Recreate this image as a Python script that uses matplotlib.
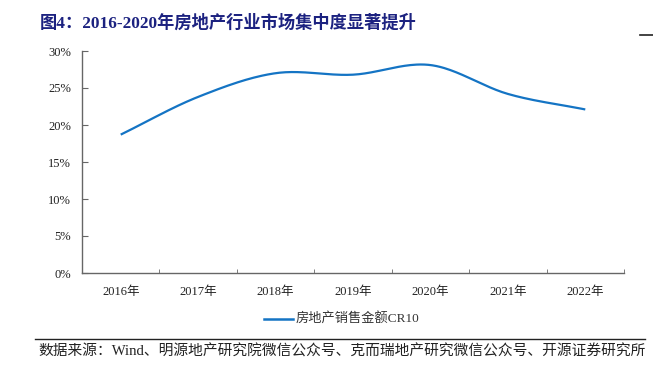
import numpy as np
import matplotlib
matplotlib.use("Agg")
import matplotlib.pyplot as plt
from matplotlib.lines import Line2D

years = ["2016年", "2017年", "2018年", "2019年", "2020年", "2021年", "2022年"]
cr10 = [18.7, 23.8, 27.0, 26.8, 28.1, 24.2, 22.1]
yticks = [0, 5, 10, 15, 20, 25, 30]
series_name = "房地产销售金额CR10"
title = "图4：2016-2020年房地产行业市场集中度显著提升"
source = "数据来源：Wind、明源地产研究院微信公众号、克而瑞地产研究微信公众号、开源证券研究所"

serif_cjk = ["Liberation Serif", "Noto Sans CJK SC"]

W, H = 653, 365
fig = plt.figure(figsize=(W / 100, H / 100), dpi=100)
ax = fig.add_axes([82 / W, 1 - 273 / H, (624 - 82) / W, (273 - 51) / H])

# smooth curve (cubic Hermite through data points)
x = np.arange(len(cr10), dtype=float)
y = np.array(cr10, dtype=float)
m = np.zeros_like(y)
m[1:-1] = (y[2:] - y[:-2]) / 2
m[0] = y[1] - y[0]
m[-1] = y[-1] - y[-2]
xs, ys = [], []
for i in range(len(y) - 1):
    t = np.linspace(0, 1, 40)
    h00 = 2 * t**3 - 3 * t**2 + 1
    h10 = t**3 - 2 * t**2 + t
    h01 = -2 * t**3 + 3 * t**2
    h11 = t**3 - t**2
    xs.extend(x[i] + t)
    ys.extend(h00 * y[i] + h10 * m[i] + h01 * y[i + 1] + h11 * m[i + 1])
ax.plot(xs, ys, color="#1474C4", lw=1.6, solid_capstyle="butt")

ax.set_xlim(-0.5, len(years) - 0.5)
ax.set_ylim(0, 30)
ax.set_yticks(yticks)
ax.set_yticklabels([f"{v}%" for v in yticks], family=serif_cjk, fontsize=9, color="#222222")
ax.set_xticks(x)
ax.set_xticklabels(years, family=serif_cjk, fontsize=9, color="#222222")
ax.set_xticks(np.arange(-0.5, len(years), 1.0), minor=True)
ax.tick_params(axis="x", which="major", length=0, pad=9)
ax.tick_params(axis="x", which="minor", direction="in", length=3, color="#666666")
ax.tick_params(axis="y", direction="in", length=4, color="#666666", pad=8)
for s in ["top", "right"]:
    ax.spines[s].set_visible(False)
for s in ["left", "bottom"]:
    ax.spines[s].set_color("#666666")
    ax.spines[s].set_linewidth(1.0)

# legend
fig.add_artist(Line2D([264 / W, 293 / W], [1 - 319 / H, 1 - 319 / H], color="#1474C4", lw=1.8))
fig.text(296 / W, 1 - 319 / H, series_name, family=serif_cjk, fontsize=9.5, color="#333333",
         ha="left", va="center")

# title
fig.text(40 / W, 1 - 23 / H, title, family=serif_cjk, fontsize=12.4, fontweight="bold",
         color="#1C2280", ha="left", va="center")
fig.add_artist(Line2D([640 / W, 653 / W], [1 - 35 / H, 1 - 35 / H], color="#222222", lw=1.2))

# source
fig.add_artist(Line2D([35 / W, 645 / W], [1 - 339 / H, 1 - 339 / H], color="#222222", lw=1.0))
fig.text(38 / W, 1 - 352 / H, source, family=serif_cjk, fontsize=10.6, color="#222222",
         ha="left", va="center")

fig.savefig("out.png", dpi=100)
